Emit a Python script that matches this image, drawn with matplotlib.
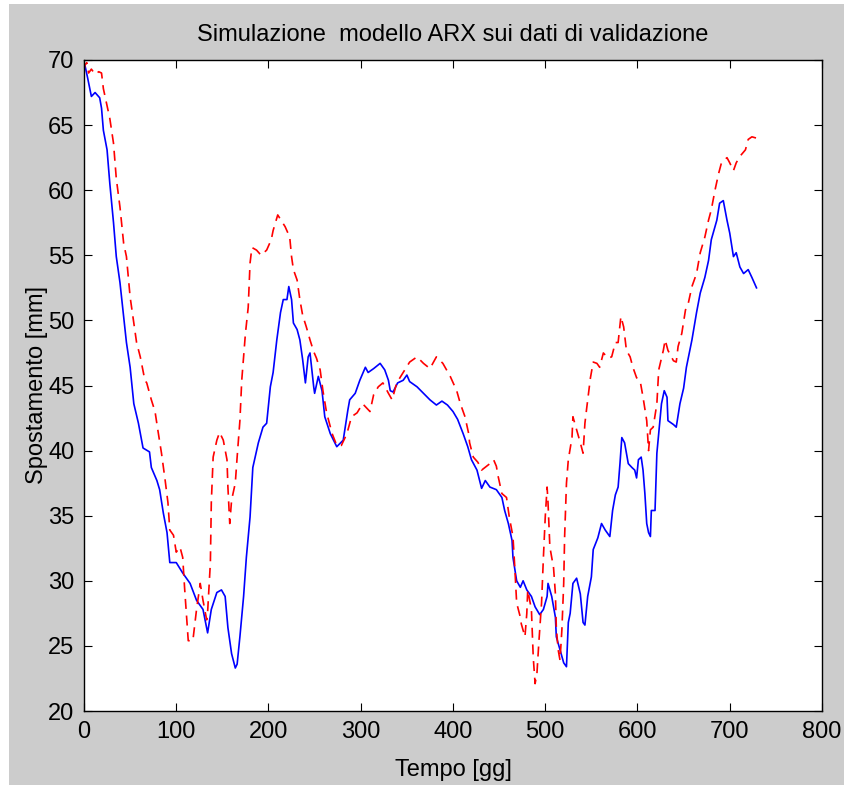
import matplotlib
matplotlib.use("Agg")
import matplotlib.pyplot as plt
from matplotlib.patches import Rectangle

plt.rcParams['font.family'] = ['Liberation Sans Narrow', 'Liberation Sans', 'DejaVu Sans']

# Misurato (validation data), blue solid
giorni_mis = [0, 1, 4, 8, 12, 17, 19, 21, 25, 28, 32, 35, 39, 43, 46, 50, 54, 59, 64, 71,
              73, 79, 82, 86, 90, 93, 100, 107, 115, 122, 129, 134, 138, 144, 149, 153, 156, 160, 164, 166,
              169, 173, 176, 180, 183, 189, 194, 198, 202, 205, 209, 213, 216, 220, 222, 225, 227, 231, 234, 237,
              240, 243, 245, 249, 250, 254, 258, 261, 267, 274, 281, 286, 288, 294, 299, 305, 308, 314, 321, 326,
              330, 332, 335, 340, 346, 350, 353, 361, 368, 375, 382, 388, 394, 400, 405, 411, 416, 420, 426, 431,
              435, 440, 447, 453, 456, 460, 464, 465, 469, 473, 476, 480, 485, 489, 494, 498, 502, 503, 507, 511,
              512, 516, 520, 523, 525, 527, 530, 534, 538, 541, 543, 546, 550, 552, 557, 561, 565, 570, 573, 576,
              579, 581, 583, 586, 590, 594, 597, 599, 601, 604, 606, 608, 610, 612, 614, 615, 619, 621, 624, 626,
              629, 632, 633, 639, 642, 646, 650, 653, 659, 664, 668, 673, 677, 680, 686, 689, 693, 697, 700, 704,
              707, 711, 715, 720, 724, 729]
spost_mis = [69.8, 69.6, 68.6, 67.2, 67.5, 67.1, 66.3, 64.6, 63.1, 60.5, 57.5, 54.9, 52.9, 50.3, 48.3, 46.4, 43.6, 42.1, 40.2, 39.9,
             38.7, 37.7, 37.0, 35.2, 33.7, 31.4, 31.4, 30.6, 29.8, 28.5, 27.8, 26.0, 27.8, 29.1, 29.3, 28.8, 26.4, 24.4, 23.3, 23.6,
             25.7, 28.8, 31.8, 34.9, 38.7, 40.6, 41.8, 42.1, 44.9, 46.0, 48.5, 50.6, 51.6, 51.6, 52.6, 51.6, 49.8, 49.3, 48.5, 47.0,
             45.2, 47.2, 47.5, 44.9, 44.4, 45.7, 44.6, 42.6, 41.3, 40.3, 40.8, 43.1, 43.9, 44.4, 45.4, 46.4, 46.0, 46.3, 46.7, 46.2,
             45.4, 44.6, 44.5, 45.2, 45.4, 45.8, 45.3, 44.9, 44.4, 43.9, 43.5, 43.8, 43.5, 43.0, 42.4, 41.3, 40.3, 39.3, 38.5, 37.1,
             37.7, 37.2, 37.0, 36.4, 35.4, 34.4, 33.1, 31.8, 30.0, 29.5, 30.0, 29.3, 28.8, 28.0, 27.4, 27.8, 28.8, 29.8, 28.8, 27.2,
             25.7, 24.7, 23.7, 23.4, 26.8, 27.5, 29.8, 30.2, 29.0, 26.8, 26.6, 28.8, 30.3, 32.4, 33.3, 34.4, 33.9, 33.4, 35.4, 36.6,
             37.2, 39.0, 41.0, 40.6, 39.0, 38.7, 38.5, 37.9, 39.3, 39.5, 38.5, 36.7, 34.4, 33.7, 33.4, 35.4, 35.4, 39.8, 42.1, 43.6,
             44.6, 44.1, 42.3, 42.0, 41.8, 43.6, 44.8, 46.4, 48.5, 50.6, 52.1, 53.3, 54.6, 56.2, 57.7, 59.0, 59.2, 57.7, 56.7, 54.9,
             55.2, 54.1, 53.6, 53.9, 53.3, 52.5]

# Simulato (ARX model output), red dashed
giorni_sim = [0, 1, 3, 5, 8, 12, 16, 19, 21, 28, 32, 35, 39, 43, 46, 50, 54, 57, 61, 66,
              68, 73, 77, 80, 84, 88, 91, 93, 97, 100, 104, 107, 109, 113, 118, 122, 126, 129, 133, 134,
              137, 138, 140, 144, 147, 151, 155, 156, 158, 160, 164, 166, 169, 171, 175, 178, 180, 182, 187, 192,
              198, 203, 205, 210, 218, 223, 225, 227, 231, 234, 237, 241, 245, 249, 252, 256, 259, 263, 269, 274,
              279, 285, 290, 296, 302, 310, 314, 319, 324, 330, 334, 339, 346, 353, 361, 368, 375, 382, 389, 397,
              404, 408, 413, 417, 418, 422, 427, 431, 440, 444, 447, 449, 453, 458, 461, 465, 467, 469, 473, 474,
              478, 480, 481, 485, 487, 489, 491, 493, 496, 498, 500, 502, 503, 505, 509, 511, 512, 514, 516, 518,
              520, 521, 523, 525, 529, 530, 534, 538, 541, 543, 545, 549, 552, 556, 559, 563, 568, 572, 576, 579,
              582, 585, 588, 592, 595, 599, 603, 606, 610, 612, 614, 617, 621, 623, 628, 630, 633, 639, 642, 644,
              648, 652, 655, 659, 664, 668, 673, 677, 680, 684, 688, 691, 697, 700, 704, 707, 711, 717, 720, 724,
              729]
spost_sim = [69.2, 69.6, 69.8, 69.0, 69.3, 68.9, 69.1, 69.0, 67.8, 65.5, 63.6, 60.9, 58.7, 55.9, 54.9, 51.8, 49.8, 48.3, 47.2, 45.4,
             45.2, 43.9, 43.0, 41.6, 39.8, 37.7, 36.0, 33.9, 33.5, 32.2, 32.6, 31.8, 29.5, 25.4, 25.4, 27.8, 29.8, 28.5, 27.0, 27.6,
             31.4, 36.0, 39.5, 40.8, 41.4, 40.8, 39.3, 37.2, 34.4, 36.2, 37.5, 39.5, 42.3, 45.4, 49.0, 51.0, 54.4, 55.6, 55.4, 55.0,
             55.4, 56.2, 56.9, 58.1, 57.2, 56.4, 54.9, 53.9, 53.1, 51.6, 50.4, 49.5, 48.5, 47.6, 47.1, 46.2, 44.6, 42.9, 41.3, 40.4,
             40.4, 41.3, 42.6, 42.9, 43.6, 43.0, 44.3, 44.9, 45.2, 44.4, 43.9, 45.2, 46.0, 46.8, 47.2, 46.7, 46.3, 47.2, 46.7, 45.7,
             44.6, 43.6, 42.6, 41.3, 40.6, 39.5, 39.1, 38.5, 39.0, 39.3, 38.8, 38.0, 36.7, 36.4, 34.9, 33.4, 31.0, 28.3, 27.2, 26.7,
             25.7, 27.5, 29.3, 27.8, 24.1, 22.1, 22.9, 25.2, 28.3, 31.8, 34.9, 37.2, 36.0, 32.6, 31.0, 29.0, 26.4, 24.7, 23.9, 26.2,
             29.8, 33.4, 37.5, 39.3, 41.0, 42.6, 41.6, 40.6, 39.8, 42.1, 43.3, 45.6, 46.8, 46.7, 46.4, 47.5, 47.1, 47.2, 48.3, 48.3,
             50.3, 49.5, 47.7, 47.2, 46.4, 45.6, 45.3, 44.1, 42.3, 40.0, 41.6, 41.8, 43.6, 46.2, 47.7, 48.5, 47.7, 46.9, 46.8, 48.0,
             49.0, 50.8, 51.3, 52.6, 53.6, 55.2, 56.4, 57.7, 58.5, 60.0, 61.3, 62.1, 62.5, 62.1, 61.5, 62.1, 62.6, 63.1, 63.9, 64.1,
             64.0]

x_ticks = [0, 100, 200, 300, 400, 500, 600, 700, 800]
y_ticks = [20, 25, 30, 35, 40, 45, 50, 55, 60, 65, 70]

fig = plt.figure(figsize=(8.45, 7.85), dpi=100, facecolor='white')
# grey window background (thin white border on the left/top edge)
fig.patches.append(Rectangle((9 / 845, 0), 1, 1 - 4 / 785, transform=fig.transFigure,
                             facecolor='#cccccc', edgecolor='none', zorder=-10))

ax = fig.add_axes([84 / 845, 74 / 785, 738 / 845, 651 / 785])
ax.set_facecolor('white')

ax.plot(giorni_mis, spost_mis, color='#0000ff', lw=1.2)
ax.plot(giorni_sim, spost_sim, color='#ff0000', lw=1.2, linestyle=(0, (6, 4)))

ax.set_xlim(0, 800)
ax.set_ylim(20, 70)
ax.set_xticks(x_ticks)
ax.set_yticks(y_ticks)
ax.tick_params(direction='in', length=6, width=0.8, top=True, right=True,
               labelsize=17, pad=7, colors='black')
for s in ax.spines.values():
    s.set_linewidth(1.0)
    s.set_color('black')

ax.set_title('Simulazione  modello ARX sui dati di validazione', fontsize=17, pad=14)
ax.set_xlabel('Tempo [gg]', fontsize=17, labelpad=12)
ax.set_ylabel('Spostamento [mm]', fontsize=17, labelpad=0)

fig.savefig('out.png', dpi=100, facecolor=fig.get_facecolor())
